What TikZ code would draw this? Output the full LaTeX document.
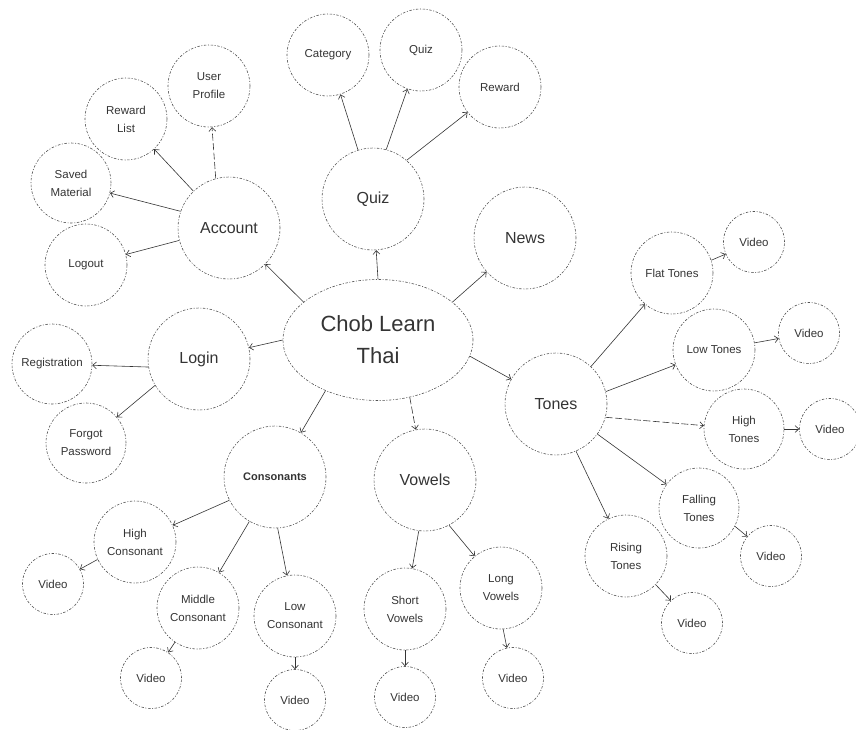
\documentclass[tikz,border=0pt]{standalone}
\usepackage{fontspec}
\setmainfont{Liberation Sans}
\usetikzlibrary{arrows.meta,shapes.geometric}
\definecolor{ink}{HTML}{343434}

\begin{document}
\begin{tikzpicture}[
  x=1pt, y=-1pt,
  ring/.style={circle, draw=ink!85, line width=0.6pt, dash pattern=on 2.5pt off 1.6pt on 1pt off 1.6pt, align=center, inner sep=0pt, text=ink},
  topic/.style={ring, minimum size=102pt, font=\fontsize{16}{19}\selectfont},
  leaf/.style={ring, minimum size=82pt, font=\fontsize{11.5}{18}\selectfont},
  vid/.style={ring, minimum size=61pt, font=\fontsize{11.5}{14}\selectfont},
  link/.style={draw=ink, line width=0.6pt, ->},
  longdash/.style={dash pattern=on 7pt off 2.5pt},
  >={Straight Barb[length=1.3mm,width=2.4mm]},
]
\useasboundingbox (0,0) rectangle (856,729);

% centre
\node[ring, ellipse, minimum width=190pt, minimum height=121pt, font=\fontsize{22}{32}\selectfont] (chob) at (378,340) {Chob Learn\\Thai};

% main topics
\node[topic] (quiz) at (373,199) {Quiz};
\node[topic] (news) at (525,238) {News};
\node[topic] (account) at (229,228) {Account};
\node[topic] (login) at (199,359) {Login};
\node[topic] (tones) at (556,404) {Tones};
\node[topic, font=\fontsize{11}{14}\selectfont\bfseries] (cons) at (275,477) {Consonants};
\node[topic] (vowels) at (425,480) {Vowels};

% quiz
\node[leaf] (category) at (328,55) {Category};
\node[leaf] (quizitem) at (421,50) {Quiz};
\node[leaf] (reward) at (500,87) {Reward};

% account
\node[leaf] (profile) at (209,86) {User\\Profile};
\node[leaf] (rewlist) at (126,119) {Reward\\List};
\node[leaf, minimum size=80pt] (saved) at (71,183) {Saved\\Material};
\node[leaf] (logout) at (86,265) {Logout};

% login
\node[leaf, minimum size=80pt] (regist) at (52,364) {Registration};
\node[leaf, minimum size=80pt] (forgot) at (86,443) {Forgot\\Password};

% tones
\node[leaf] (flat) at (672,273) {Flat Tones};
\node[leaf] (low) at (714,350) {Low Tones};
\node[leaf, minimum size=80pt] (high) at (744,429) {High\\Tones};
\node[leaf, minimum size=80pt] (falling) at (699,508) {Falling\\Tones};
\node[leaf] (rising) at (626,556) {Rising\\Tones};
\node[vid] (vflat) at (754,242) {Video};
\node[vid] (vlow) at (809,333) {Video};
\node[vid] (vhigh) at (830,429) {Video};
\node[vid] (vfall) at (771,556) {Video};
\node[vid] (vrise) at (692,623) {Video};

% consonants
\node[leaf] (highcons) at (135,542) {High\\Consonant};
\node[leaf] (midcons) at (198,608) {Middle\\Consonant};
\node[leaf] (lowcons) at (295,616) {Low\\Consonant};
\node[vid] (vhighcons) at (53,584) {Video};
\node[vid] (vmidcons) at (151,678) {Video};
\node[vid] (vlowcons) at (295,700) {Video};

% vowels
\node[leaf] (short) at (405,609) {Short\\Vowels};
\node[leaf] (long) at (501,588) {Long\\Vowels};
\node[vid] (vshort) at (405,697) {Video};
\node[vid] (vlong) at (513,678) {Video};

% connectors
\draw[link] (chob.north) -- (quiz);
\draw[link] (chob.27) -- (news);
\draw[link] (chob.153) -- (account);
\draw[link] (chob.west) -- (login);
\draw[link] (chob.350) -- (tones);
\draw[link] (chob.224) -- (cons);
\draw[link, longdash] (chob.299) -- (vowels);

\draw[link] (quiz.107) -- (category);
\draw[link] (quiz.75) -- (quizitem);
\draw[link] (quiz.49) -- (reward);

\draw[link, longdash] (account.105) -- (profile);
\draw[link] (account.134) -- (rewlist);
\draw[link] (account.161) -- (saved);
\draw[link] (account.194) -- (logout);

\draw[link] (login.189) -- (regist);
\draw[link] (login.211) -- (forgot);

\draw[link] (tones.47) -- (flat);
\draw[link] (tones.14) -- (low);
\draw[link, longdash] (tones.345) -- (high);
\draw[link] (tones.324) -- (falling);
\draw[link] (tones.293) -- (rising);
\draw[link] (flat.18) -- (vflat);
\draw[link] (low.10) -- (vlow);
\draw[link] (high.east) -- (vhigh);
\draw[link] (falling.333) -- (vfall);
\draw[link] (rising.316) -- (vrise);

\draw[link] (cons.207) -- (highcons);
\draw[link] (cons.240) -- (midcons);
\draw[link] (cons.273) -- (lowcons);
\draw[link] (highcons.205) -- (vhighcons);
\draw[link] (midcons.236) -- (vmidcons);
\draw[link] (lowcons.south) -- (vlowcons);

\draw[link] (vowels.263) -- (short);
\draw[link] (vowels.298) -- (long);
\draw[link] (short.south) -- (vshort);
\draw[link] (long.273) -- (vlong);
\end{tikzpicture}
\end{document}
